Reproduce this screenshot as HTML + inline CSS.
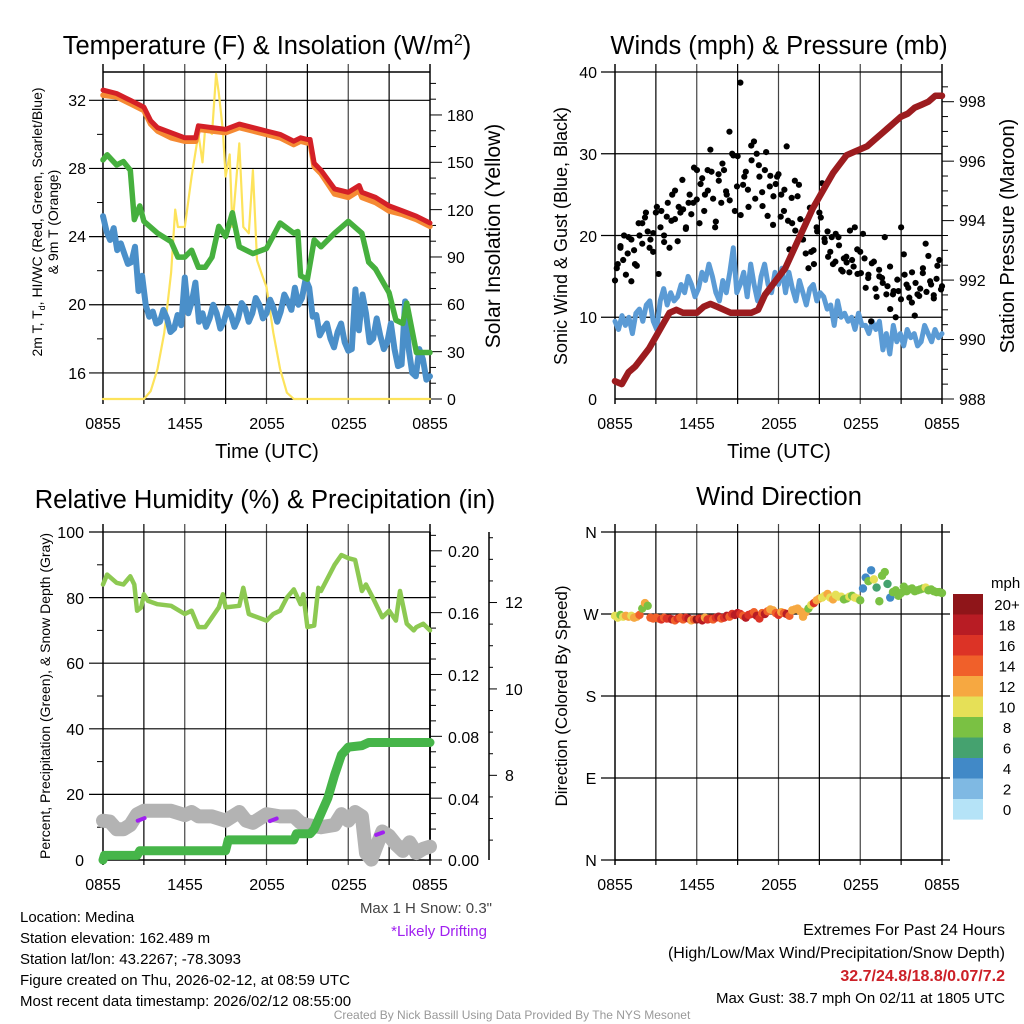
<!DOCTYPE html>
<html><head><meta charset="utf-8"><style>
body{margin:0;background:#fff}
svg{display:block;font-family:"Liberation Sans",sans-serif}
</style></head><body>
<svg id="s" width="1024" height="1024" viewBox="0 0 1024 1024">
<rect width="1024" height="1024" fill="#fff"/>
<g font-size="25.5" text-anchor="middle" fill="#000">
<text x="267" y="54">Temperature (F) &amp; Insolation (W/m<tspan dy="-9" font-size="16">2</tspan><tspan dy="9">)</tspan></text>
<text x="779" y="54">Winds (mph) &amp; Pressure (mb)</text>
<text x="265" y="508">Relative Humidity (%) &amp; Precipitation (in)</text>
<text x="779" y="505">Wind Direction</text>
</g>
<g font-size="16" text-anchor="middle">
<text x="103" y="429">0855</text><text x="185" y="429">1455</text><text x="267" y="429">2055</text><text x="349" y="429">0255</text><text x="430" y="429">0855</text>
<text x="615" y="429">0855</text><text x="697" y="429">1455</text><text x="779" y="429">2055</text><text x="861" y="429">0255</text><text x="942" y="429">0855</text>
<text x="103" y="890">0855</text><text x="185" y="890">1455</text><text x="267" y="890">2055</text><text x="349" y="890">0255</text><text x="430" y="890">0855</text>
<text x="615" y="890">0855</text><text x="697" y="890">1455</text><text x="779" y="890">2055</text><text x="861" y="890">0255</text><text x="942" y="890">0855</text>
</g>
<g font-size="20" text-anchor="middle">
<text x="267" y="458">Time (UTC)</text>
<text x="779" y="458">Time (UTC)</text>
<text transform="translate(500,236) rotate(-90)" font-size="21">Solar Insolation (Yellow)</text>
<text transform="translate(1014,236) rotate(-90)">Station Pressure (Maroon)</text>
</g>
<g font-size="14" text-anchor="middle">
<text transform="translate(42,222) rotate(-90)">2m T, T<tspan font-size="9" dy="3">d</tspan><tspan dy="-3">, HI/WC (Red, Green, Scarlet/Blue)</tspan></text>
<text transform="translate(58,222) rotate(-90)">&amp; 9m T (Orange)</text>
<text transform="translate(50,696) rotate(-90)">Percent, Precipitation (Green), &amp; Snow Depth (Gray)</text>
</g>
<text transform="translate(567,236) rotate(-90)" font-size="18" text-anchor="middle">Sonic Wind &amp; Gust (Blue, Black)</text>
<text transform="translate(567,696) rotate(-90)" font-size="17" text-anchor="middle">Direction (Colored By Speed)</text>
<g font-size="16" text-anchor="end">
<text x="86" y="106">32</text><text x="86" y="174">28</text><text x="86" y="242">24</text><text x="86" y="310">20</text><text x="86" y="379">16</text>
<text x="597" y="78">40</text><text x="597" y="160">30</text><text x="597" y="242">20</text><text x="597" y="323">10</text><text x="597" y="405">0</text>
<text x="84" y="538">100</text><text x="84" y="604">80</text><text x="84" y="669">60</text><text x="84" y="735">40</text><text x="84" y="800">20</text><text x="84" y="866">0</text>
</g>
<g font-size="16">
<text x="447" y="121">180</text><text x="447" y="168">150</text><text x="447" y="216">120</text><text x="447" y="263">90</text><text x="447" y="310">60</text><text x="447" y="358">30</text><text x="447" y="405">0</text>
<text x="959" y="107">998</text><text x="959" y="167">996</text><text x="959" y="226">994</text><text x="959" y="286">992</text><text x="959" y="345">990</text><text x="959" y="405">988</text>
<text x="448" y="557">0.20</text><text x="448" y="619">0.16</text><text x="448" y="681">0.12</text><text x="448" y="743">0.08</text><text x="448" y="805">0.04</text><text x="448" y="866">0.00</text>
<text x="505" y="608">12</text><text x="505" y="695">10</text><text x="505" y="781">8</text>
</g>
<g font-size="16" text-anchor="middle">
<text x="591" y="538">N</text><text x="591" y="620">W</text><text x="591" y="702">S</text><text x="591" y="784">E</text><text x="591" y="866">N</text>
</g>
<g id="cbar"><text x="991" y="588" font-size="15">mph</text></g>
<g font-size="15" fill="#000">
<text x="20" y="922">Location: Medina</text>
<text x="20" y="943">Station elevation: 162.489 m</text>
<text x="20" y="964">Station lat/lon: 43.2267; -78.3093</text>
<text x="20" y="985">Figure created on Thu, 2026-02-12, at 08:59 UTC</text>
<text x="20" y="1006">Most recent data timestamp: 2026/02/12 08:55:00</text>
<text x="492" y="913" text-anchor="end" fill="#444">Max 1 H Snow: 0.3"</text>
<text x="487" y="936" text-anchor="end" fill="#a020f0">*Likely Drifting</text>
</g>
<g font-size="16" text-anchor="end">
<text x="1005" y="935">Extremes For Past 24 Hours</text>
<text x="1005" y="958">(High/Low/Max Wind/Precipitation/Snow Depth)</text>
<text x="1005" y="981" font-weight="bold" fill="#cc2027">32.7/24.8/18.8/0.07/7.2</text>
<text x="1005" y="1003" font-size="15">Max Gust: 38.7 mph On 02/11 at 1805 UTC</text>
</g>
<text x="512" y="1019" font-size="12" fill="#999" text-anchor="middle">Created By Nick Bassill Using Data Provided By The NYS Mesonet</text>
<g id="plots"></g>
</svg>
<script>
// ---- data (t = hours since 0855 UTC) ----
const redT=[0,1,2,3,3.5,4,5,6,6.8,7,8,9,10,11,12,13,14,14.5,15,15.2,15.5,16,17,18,18.8,19,20,21,22,23,24];
const redV=[32.6,32.4,32.0,31.6,30.8,30.4,30.1,29.8,29.8,30.5,30.4,30.3,30.6,30.4,30.2,30.0,29.6,29.8,29.7,29.7,28.3,27.9,26.8,26.6,27.0,26.6,26.3,25.8,25.5,25.2,24.8];
const orangeV=[32.3,32.2,31.8,31.4,30.6,30.2,29.8,29.6,29.6,30.3,30.2,30.1,30.4,30.2,30.0,29.8,29.4,29.6,29.5,29.5,28.1,27.7,26.5,26.3,26.7,26.3,26.0,25.5,25.3,25.0,24.6];
const grnT=[0,0.3,1,1.5,2,2.3,2.7,3,4,5,5.5,6,6.5,7,7.5,8,8.5,9,9.5,10,11,12,13,14,14.3,14.5,15,15.5,16,17,18,19,19.5,20,21,21.5,22,22.3,23,24];
const grnV=[28.5,28.8,28.2,28.4,27.9,25.0,25.8,24.9,24.2,23.7,22.8,22.8,23.2,22.2,22.2,22.8,24.6,24.0,25.4,23.4,23.0,23.3,24.8,24.2,24.3,21.7,21.5,23.8,23.4,24.2,24.9,24.2,22.5,22.1,20.7,19.1,18.9,20.1,17.2,17.2];
const blueV=[25.2,24.3,23.8,24.5,23.2,23.6,23.0,22.4,22.5,23.4,20.8,21.7,20.0,19.3,19.6,18.9,19.0,19.7,19.2,18.4,18.6,19.4,18.8,21.6,19.5,20.2,21.3,19.0,19.5,18.7,19.2,20.0,19.5,18.6,19.0,19.8,19.4,18.7,19.2,20.1,19.8,19.0,19.5,20.4,20.0,19.2,19.5,20.3,19.8,19.0,19.6,20.6,20.2,19.7,21.0,20.0,20.4,21.5,21.0,19.3,19.4,18.2,18.6,18.9,18.0,17.5,18.4,18.9,17.8,17.3,17.4,20.9,18.5,20.6,19.5,17.8,18.0,19.2,18.2,17.4,17.8,18.9,17.4,16.4,16.5,20.2,17.4,16.0,15.8,17.4,16.8,15.6,15.8];
const solT=[0,3,3.5,4,4.5,5,5.3,5.5,6,6.5,7,7.3,7.5,8,8.3,8.5,8.8,9,9.3,9.5,10,10.3,10.7,11,11.3,11.7,12,12.5,13,13.5,14,24];
const solV=[0,0,5,19,42,80,120,109,109,141,168,150,172,168,206,194,170,141,155,109,162,109,105,145,88,78,71,42,19,4,0,0];
const presV=[988.6,988.5,988.9,989.1,989.4,989.7,990.1,990.5,990.9,991.0,990.9,990.9,990.9,991.1,991.2,991.1,991.0,990.9,990.9,990.9,990.9,991.0,991.5,991.8,992.1,992.4,992.9,993.4,993.9,994.4,994.8,995.2,995.6,995.9,996.2,996.3,996.4,996.5,996.7,996.9,997.1,997.3,997.5,997.6,997.8,997.9,998.0,998.2,998.2];
const windV=[9.5,8.5,10.2,9,10,8,10.5,11,9.5,11.5,12,9.5,8.5,12,13.5,11.5,13,12,12.5,14,13,15,14,12.5,13.5,15.5,14.5,16.5,15,13,12,14.5,13,15.5,18.5,13,14,15.5,12.5,16.5,14,12,15,16.5,14,13,15.5,14,16,13,15.5,13.5,12,14.5,13,11.5,13.5,14,12,13,12.5,11,11.5,9,12,10,10.5,9.5,10,8.5,10.5,9,9,8,9.5,8.5,9.5,6,8,5.5,9,7,8,6.5,8.5,7.5,8,6.5,7,9,8,7,8.5,7.5,8];
const gustV=[14.5,16.5,18.7,17,15.2,19.8,14.4,18.2,16.3,20,21.5,22.2,20.5,19.5,18,22.8,15.3,23,20,22.3,18.5,25,22,19.3,22.8,23.2,20.8,24,22.6,28.3,24.4,21.5,27,25,28,30.5,24.5,21.7,27.5,24,28,25,32.7,30,23,29.7,38.7,26.2,27.8,23.5,31,31.5,30,27.2,25.3,28,22.4,27.3,21.3,26.3,27.5,25,23,30.9,18.3,21.5,26.7,24.8,22,19.5,17.8,16,18,16.5,21,22.8,26.4,19.2,20.5,18,16.5,20.2,19.8,15.8,17.2,16.7,15.5,17,21,15.3,18,20.2,13.6,15.2,9.5,16.8,12.5,15,14.8,19.8,13.8,11,12.8,10,13.2,21,17.7,14,12.4,15.5,10.2,12.8,13.5,16,19,17.5,14,12.3,14.7,17,13.8];
const gust2V=[16,18.5,20,17.8,19.5,16.5,21.5,19,22.8,18.5,20.3,23.5,21,19.2,24,21.8,25.5,23.5,26.8,21,25,24,28,26.3,23,25.5,27.8,21,26.7,28.8,25.4,24.3,29.8,26,22.5,27.2,25.6,29.2,24.5,28.6,23.6,30.2,26,24.8,27.2,22.3,25.6,21.8,24.6,20.6,26.2,19.5,21.8,23.4,18.2,20.5,22.2,19.6,17.4,19.8,16.8,18.8,15.6,17.4,20.6,16.2,18.3,15.4,17.2,14.8,16.6,13.5,15.8,14.2,12.8,16.2,13.2,14.6,12.2,15.2,13.6,11.8,14.2,12.6,15.4,13.1,14.4,12.7,16.3,13.4];
const rhT=[0,0.3,1,1.5,2,2.3,2.5,2.8,3,3.3,4,5,6,6.5,7,7.5,8,8.5,8.8,9,10,10.3,10.7,11,12,12.5,13,13.5,14,14.5,14.7,15,15.5,15.8,16,17,17.5,18,18.5,19,19.3,19.8,20.5,21,21.5,21.8,22.3,22.8,23,23.5,24];
const rhV=[84,87,84.5,84,86.5,84,76,77,81,79,78,77.5,75,76,71,71,74,77,81,77,77.5,83,75,74.5,73,75,76,80,82.5,78,81,71,71.5,83,82,90,93,92,91.5,82,84,80,74,76,73,82,72,70,71,72,70];
const prT=[0,0.1,2.5,2.7,9,9.2,14,14.2,15.2,15.5,16,16.5,17,17.5,18,19,19.5,24];
const prV=[0,0.003,0.003,0.006,0.006,0.013,0.013,0.017,0.017,0.020,0.030,0.040,0.055,0.068,0.073,0.074,0.076,0.076];
const snT=[0,0.5,1,1.5,2,2.5,3,4,5,6,6.5,7,8,9,10,10.5,11,12,13,14,14.5,15,16,17,17.5,18,18.5,19,19.3,19.7,20,20.5,21,21.5,22,22.5,23,23.5,24];
const snV=[6.95,6.93,6.75,6.75,6.85,7.1,7.18,7.18,7.18,7.08,7.15,7.05,7.05,6.95,7.15,6.95,6.9,7.1,7.05,7.05,6.9,6.85,6.8,6.85,7.1,6.95,7.15,7.05,6.2,6.05,6.3,6.7,6.6,6.4,6.25,6.45,6.2,6.3,6.35];
const driftT=[2.8,12.5,20.3];
const driftV=[6.98,6.97,6.65];
const dirV=[268,266,269,267,268,267,268,266,267,269,276,282,279,266,265,266,265,264,266,265,265,264,263,265,266,264,266,265,263,264,264,265,263,266,264,265,264,266,267,265,266,268,267,270,269,271,270,268,266,269,270,272,268,265,271,270,273,275,274,271,269,272,271,270,268,274,275,276,273,267,272,276,280,282,285,287,288,290,292,288,286,291,289,289,286,287,289,290,288,287,285,298,310,306,318,308,299,284,312,316,303,288,294,296,290,293,300,295,297,298,295,296,297,298,299,296,297,295,294,294,293];
const dirSpd=[10,10,8,10,12,12,10,12,12,14,8,12,8,14,14,14,14,16,14,16,16,18,14,16,14,14,16,18,12,14,20,16,18,12,16,16,14,16,18,14,16,18,14,16,18,18,16,14,18,16,16,14,18,16,14,18,14,12,12,14,16,12,14,18,14,12,12,12,12,12,12,8,10,16,12,12,10,10,12,10,12,10,10,10,8,8,10,8,10,10,8,4,4,8,4,10,6,8,8,8,6,4,8,8,8,8,8,8,8,8,8,8,8,8,10,8,8,8,8,8,8];
const cbLabels=['20+','18','16','14','12','10','8','6','4','2','0'];
const cbColors=['#8f1519','#b81c24','#dc3326','#f0602a','#f6a841','#e6e057','#7ac143','#45a26f','#4189c7','#7fb9e3','#b5e3f7'];

const NS='http://www.w3.org/2000/svg';
const P=document.getElementById('plots');
function el(tag,parent){const e=document.createElementNS(NS,tag);(parent||P).appendChild(e);return e;}
function uni(n){return Array.from({length:n},(_,i)=>i*24/(n-1));}
function xs(x0){return t=>x0+t*327/24;}
const xL=xs(103),xR=xs(615);
const yTemp=v=>399-(v-14.47)*17.04, ySol=v=>399-v*1.578;
const yWind=v=>399-v*8.175, yPres=v=>399-(v-988)*29.73;
const yRH=v=>860-v*3.28, yPr=v=>860-v*1546, ySn=v=>860-(v-6.04)*43.2;
const yDir=v=>860-v*0.9111;
function line(d,c,w){const e=el('line');e.setAttribute('x1',d[0]);e.setAttribute('y1',d[1]);e.setAttribute('x2',d[2]);e.setAttribute('y2',d[3]);e.setAttribute('stroke',c);e.setAttribute('stroke-width',w);return e;}
function path(ts,vs,fx,fy,c,w,name){const e=el('path');e.setAttribute('d',ts.map((t,i)=>(i?'L':'M')+fx(t).toFixed(1)+','+fy(vs[i]).toFixed(1)).join(''));e.setAttribute('fill','none');e.setAttribute('stroke',c);e.setAttribute('stroke-width',w);e.setAttribute('stroke-linejoin','round');e.setAttribute('stroke-linecap','round');


return e;}
function frame(x0,y0,y1,hl,name){
 for(let i=0;i<=8;i++){const x=x0+i*327/8;const g=line([x,y0-8,x,y1+5],i%2?'#000':'#444',i==0||i==8?2:1.2);
 
 }
 hl.forEach(y=>{const g=line([x0-14,y,x0+327+(name=='br'?8:0),y],'#000',1.2);
 
 });
 const b=line([x0,y1,x0+327,y1],'#000',1.5);
 
 
}
function ticks(x,ys,len,name){ys.forEach(y=>{const t=line([x,y,x+len,y],'#000',1);
 
 });}
// TL
frame(103,72,399,[16,20,24,28,32].map(yTemp),'tl');
{const a=line([103,72,430,72],'#000',1.5);}
ticks(103,[18,22,26,30].map(yTemp),-6,'temp-minor-tick');
ticks(430,[0,30,60,90,120,150,180].map(ySol),12,'solar-tick-mark');
ticks(430,[10,20,40,50,70,80,100,110,130,140,160,170,190,200].map(ySol),6,'solar-minor-tick');
path(solT,solV,xL,ySol,'#fde35b',2.2,'solar-line');
path(uni(blueV.length),blueV,xL,yTemp,'#4a8fc9',6,'windchill-line');
path(grnT,grnV,xL,yTemp,'#46b03e',5.5,'dewpoint-line');
path(redT,orangeV,xL,yTemp,'#f58a33',5.5,'temp-9m-line');
path(redT,redV,xL,yTemp,'#d42027',5,'temp-2m-line');
// TR
frame(615,72,399,[10,20,30,40].map(yWind),'tr');
ticks(942,[988,990,992,994,996,998].map(yPres),12,'pressure-tick-mark');
ticks(942,[988.5,989,989.5,990.5,991,991.5,992.5,993,993.5,994.5,995,995.5,996.5,997,997.5,998.5].map(yPres),6,'pressure-minor-tick');
path(uni(windV.length),windV,xR,yWind,'#5b9bd5',5,'sonic-wind-line');
gustV.forEach((v,i)=>{const c=el('circle');c.setAttribute('cx',xR(i*24/(gustV.length-1)));c.setAttribute('cy',yWind(v));c.setAttribute('r',3.1);c.setAttribute('fill','#000');

});
gust2V.forEach((v,i)=>{const c=el('circle');c.setAttribute('cx',xR(0.13+i*23.8/(gust2V.length-1)));c.setAttribute('cy',yWind(v));c.setAttribute('r',3.1);c.setAttribute('fill','#000');

});
path(uni(presV.length),presV,xR,yPres,'#9c1c1f',6.5,'pressure-line');
// BL
frame(103,532,860,[20,40,60,80,100].map(yRH),'bl');
ticks(103,[10,30,50,70,90].map(yRH),-6,'rh-minor-tick');
{const a=line([430,532,430,860],'#000',1.5);}
ticks(430,[0,0.04,0.08,0.12,0.16,0.2].map(yPr),12,'precip-tick-mark');
ticks(430,[0.01,0.02,0.03,0.05,0.06,0.07,0.09,0.1,0.11,0.13,0.14,0.15,0.17,0.18,0.19,0.21].map(yPr),6,'precip-minor-tick');
{const a=line([489,532,489,860],'#000',1.5);}
ticks(489,[8,10,12].map(ySn),8,'snow-tick-mark');
ticks(489,[6.5,7,7.5,8.5,9,9.5,10.5,11,11.5,12.5,13,13.5].map(ySn),4,'snow-minor-tick');
path(snT,snV,xL,ySn,'#b3b3b3',14,'snow-depth-line');
driftT.forEach((t,i)=>{const e=path([t-0.25,t+0.25],[driftV[i]-0.03,driftV[i]+0.03],xL,ySn,'#a020f0',4,'drift-mark');});
path(prT,prV,xL,yPr,'#46b549',9,'precip-line');
path(rhT,rhV,xL,yRH,'#8dc952',4.5,'rh-line');
// BR
frame(615,532,860,[0,90,180,270,360].map(yDir),'br');
dirV.forEach((v,i)=>{const c=el('circle');c.setAttribute('cx',xR(i*24/(dirV.length-1)));c.setAttribute('cy',yDir(v));c.setAttribute('r',4.2);
const k=Math.min(10,Math.round(dirSpd[i]/2));c.setAttribute('fill',cbColors[10-k]);

});
const CB=document.getElementById('cbar');
cbLabels.forEach((l,i)=>{const r=el('rect',CB);r.setAttribute('x',953);r.setAttribute('y',594+i*20.5);r.setAttribute('width',30);r.setAttribute('height',20.6);r.setAttribute('fill',cbColors[i]);


const t=el('text',CB);t.setAttribute('x',1007);t.setAttribute('y',610+i*20.5);t.setAttribute('font-size','15');t.setAttribute('text-anchor','middle');t.textContent=l;

});
</script>
</body></html>
